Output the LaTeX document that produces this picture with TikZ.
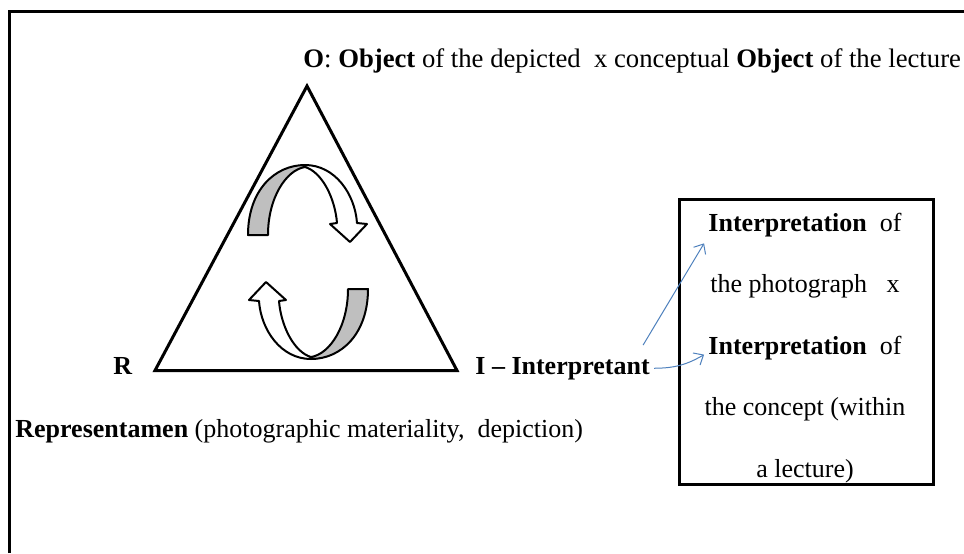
\documentclass[tikz,border=0pt]{standalone}
\usepackage{fontspec}
\setmainfont{Liberation Serif}
\usetikzlibrary{arrows.meta,positioning}
\definecolor{linkblue}{RGB}{79,129,189}

\begin{document}
\begin{tikzpicture}[x=0.5pt, y=-0.5pt,
  every node/.style={inner sep=0pt, font=\fontsize{13}{15}\selectfont},
  lbl/.style={anchor=base west},
  boxline/.style={anchor=base},
  ribbon/.style={draw=black, line width=1pt, line join=round},
  pointer/.style={draw=linkblue, line width=0.5pt, -{Straight Barb[length=4pt,width=7pt]}}]
  \useasboundingbox (0,0) rectangle (964,553);
  % frame
  \draw[line width=1.5pt] (9,553) -- (9,11) -- (964,11);
  % triangle
  \coordinate (O) at (307,86);
  \coordinate (R) at (155,370.5);
  \coordinate (I) at (457,370.5);
  \draw[line width=1.5pt] (O) -- (I) -- (R) -- cycle;
  % the two curved arrows
  \foreach \a in {0,180} {
    \begin{scope}[shift={(308,262)}, rotate=\a]
      \fill[black!25] (-60,-27) .. controls (-60,-72) and (-33,-97) .. (-3,-97)
        -- (-3,-95) .. controls (-22,-92) and (-40,-64) .. (-40,-27) -- cycle;
      \draw[ribbon] (-60,-27) .. controls (-60,-72) and (-33,-97) .. (-3,-97)
        .. controls (27,-97) and (47,-68) .. (49,-39) -- (59,-38) -- (42,-20)
        -- (22,-38) -- (29,-39) .. controls (27,-64) and (14,-90) .. (-3,-95)
        .. controls (-22,-92) and (-40,-64) .. (-40,-27) -- cycle;
    \end{scope}
  }
  % labels
  \node[lbl, font=\fontsize{13.35}{16}\selectfont] (otext) at (303,67) {\textbf{O}: \textbf{Object} of the depicted\ \ x conceptual \textbf{Object} of the lecture};
  \node[anchor=base] (rlabel) at (123,374) {\textbf{R}};
  \node[lbl] (interp) at (475,374) {\textbf{I – Interpretant}};
  \node[lbl] (repr) at (15,437) {\textbf{Representamen} (photographic materiality,\ \ depiction)};
  % interpretation box
  \node[draw, line width=1.5pt, minimum width=127pt, minimum height=142.5pt] (ibox) at (806.5,342) {};
  \foreach \t [count=\k] in {{\textbf{Interpretation}\ \ of}, {the photograph\ \ \ x},
      {\textbf{Interpretation}\ \ of}, {the concept (within}, {a lecture)}} {
    \node[boxline] (l\k) at (805,{169.5+61.5*\k}) {\t};
  }
  \draw[pointer] ([xshift=-3.5pt,yshift=5.75pt]interp.north east) -- ([xshift=-2pt,yshift=-3.2pt]l1.south west);
  \draw[pointer] ([xshift=2pt]interp.east) to[bend right=15] ([xshift=-2pt,yshift=-3.5pt]l3.west);
\end{tikzpicture}
\end{document}
